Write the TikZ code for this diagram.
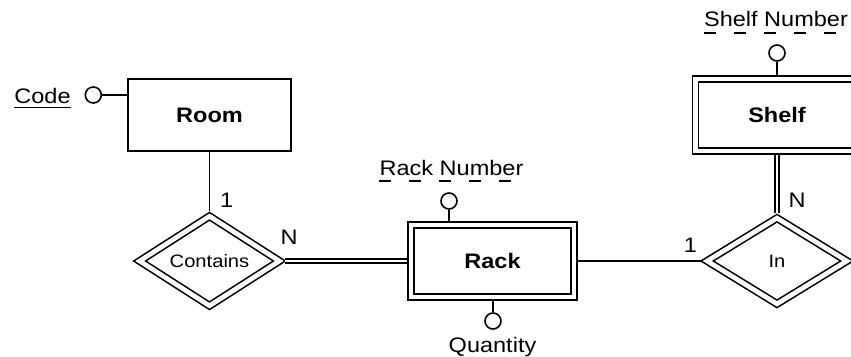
\documentclass[tikz,border=0pt]{standalone}
\usepackage{fontspec}
\setmainfont{Liberation Sans}[FakeStretch=1.12]
\usetikzlibrary{shapes.geometric}
\begin{document}
\begin{tikzpicture}[x=1pt,y=-1pt,
  lw/.style={line width=1.6pt},
  entbox/.style={draw, lw, rectangle, minimum width=163pt, minimum height=72pt, inner sep=0pt, font=\fontsize{21}{24}\selectfont\bfseries},
  weakbox/.style={entbox, double, double distance=4.7pt, outer sep=3.95pt},
  reldia/.style={draw, lw, diamond, double, double distance=4.7pt, minimum width=143pt, minimum height=89pt, inner sep=0pt, outer sep=3.95pt, font=\fontsize{18}{21}\selectfont},
  attr/.style={draw, lw, circle, minimum size=16pt, inner sep=0pt},
  lbl/.style={inner sep=0pt, font=\fontsize{21}{24}\selectfont},
  conn/.style={lw},
  dconn/.style={lw, double, double distance=2.7pt},
  keyline/.style={line width=1.4pt},
  pkeyline/.style={line width=1.4pt, dash pattern=on 12pt off 18pt}
]
\useasboundingbox (0,0) rectangle (851,356);
\clip (0,0) rectangle (851,356);

% entities
\node[entbox] (room) at (209.5,115) {Room};
\node[weakbox] (rack) at (492.5,261) {Rack};
\node[weakbox] (shelf) at (777,115) {Shelf};

% relationships
\node[reldia] (contains) at (209.5,261) {Contains};
\node[reldia] (in) at (777,261) {In};

% attributes
\node[attr] (codec) at (93.3,95) {};
\node[lbl, anchor=base] (codet) at (42.5,103) {Code};
\draw[keyline] ([yshift=-4.5pt]codet.base west) -- ([yshift=-4.5pt]codet.base east);
\draw[conn] (codec.east) -- (codec.east -| room.west);

\node[attr] (rnc) at (449,201) {};
\node[lbl, anchor=base] (rnt) at (451.5,175) {Rack Number};
\draw[pkeyline] ([yshift=-6pt]rnt.base west) -- ([yshift=-6pt]rnt.base east);
\draw[conn] (rnc.south) -- (rnc.south |- rack.north);

\node[attr] (qc) at (493,321) {};
\node[lbl, anchor=base] (qt) at (492.5,352) {Quantity};
\draw[conn] (qc.north) -- (qc.north |- rack.south);

\node[attr] (snc) at (777,53) {};
\node[lbl, anchor=base] (snt) at (776,27) {Shelf Number};
\draw[pkeyline] ([yshift=-6pt]snt.base west) -- ([yshift=-6pt]snt.base east);
\draw[conn] (snc.south) -- (snc.south |- shelf.north);

% connectors
\draw[conn] (room.south) -- (contains.north);
\draw[dconn] (contains.east) -- (rack.west);
\draw[conn] (rack.east) -- (in.west);
\draw[dconn] (shelf.south) -- (in.north);

% cardinalities
\node[lbl] (c1) at (226.7,200.5) {1};
\node[lbl] (cn) at (289,237.5) {N};
\node[lbl] (i1) at (690.5,245) {1};
\node[lbl] (in2) at (797,200.5) {N};
\end{tikzpicture}
\end{document}
